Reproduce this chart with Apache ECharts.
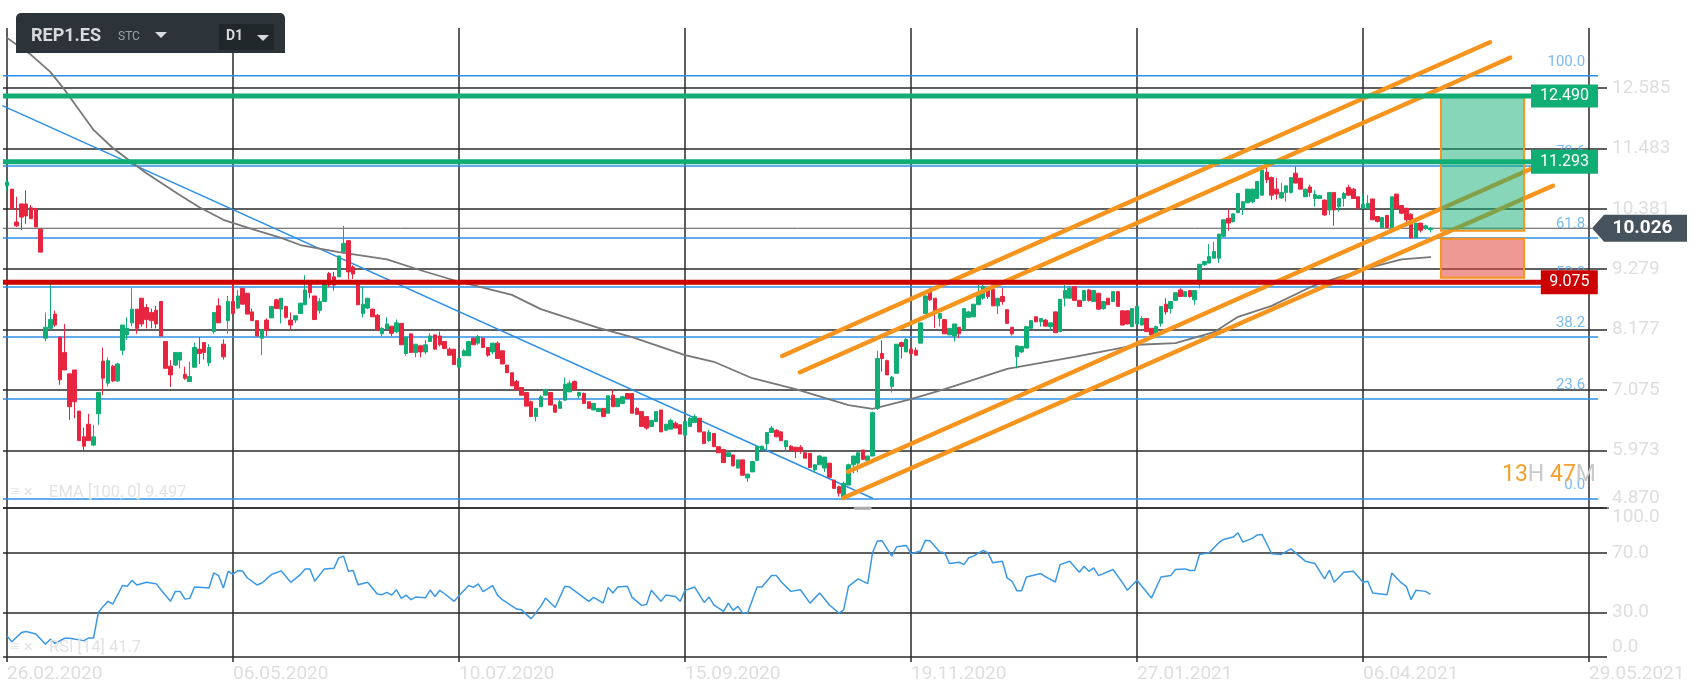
<!DOCTYPE html>
<html>
<head>
<meta charset="utf-8">
<title>REP1.ES</title>
<script src="https://cdn.jsdelivr.net/npm/echarts@6/dist/echarts.min.js"></script>
<style>
	html, body { margin: 0; padding: 0; background: #fff; }
	#chart { width: 1706px; height: 699px; filter: blur(0.4px); }
</style>
</head>
<body>
<div id="chart"></div>
<script>
// one candle per session: open, close, low, high
var candles = [
	[10.80,10.87,10.72,10.91],[10.74,10.38,10.38,10.74],[10.14,10.07,10.05,10.60],[10.47,10.23,9.99,10.47],
	[10.47,10.25,10.10,10.72],[10.40,10.20,10.20,10.45],[10.38,10.05,10.05,10.40],[10.01,9.59,9.59,10.01],
	[8.02,8.22,7.96,8.49],[8.20,8.36,8.17,9.03],[8.46,8.26,8.23,8.52],[8.04,7.26,7.17,8.05],
	[7.76,7.44,7.44,8.28],[7.37,6.77,6.53,7.37],[7.44,6.86,6.56,7.44],[6.69,6.15,6.15,6.69],
	[6.22,6.05,5.95,6.39],[6.45,6.15,6.15,6.64],[6.07,6.22,6.05,6.44],[6.64,7.03,6.44,7.03],
	[7.60,7.29,6.98,7.85],[7.20,7.61,7.14,7.67],[7.51,7.24,7.22,7.53],[7.24,7.55,7.22,7.57],
	[7.80,8.26,7.71,8.26],[8.08,8.20,7.99,8.40],[8.30,8.55,8.24,8.93],[8.55,8.20,8.10,8.55],
	[8.75,8.28,8.23,8.75],[8.58,8.36,8.20,8.64],[8.49,8.34,8.20,8.56],[8.53,8.28,8.20,8.61],
	[8.69,8.06,8.06,8.69],[7.96,7.47,7.47,7.96],[7.51,7.35,7.13,7.62],[7.53,7.76,7.51,7.76],
	[7.62,7.76,7.47,7.76],[7.36,7.29,7.26,7.50],[7.23,7.32,7.23,7.59],[7.49,7.85,7.49,7.94],
	[7.82,7.74,7.55,8.04],[7.94,7.76,7.63,7.94],[7.57,7.85,7.51,7.91],[8.14,8.49,8.10,8.49],
	[8.61,8.30,8.30,8.75],[7.91,7.68,7.63,8.00],[8.34,8.69,8.10,8.79],[8.69,8.47,8.47,8.99],
	[8.57,8.79,8.55,8.90],[8.93,8.64,8.64,8.93],[8.84,8.46,8.46,8.84],[8.50,8.34,8.34,8.56],
	[8.34,8.06,8.06,8.34],[8.02,8.17,7.71,8.17],[8.35,8.17,8.06,8.38],[8.39,8.60,8.39,8.60],
	[8.72,8.56,8.56,8.74],[8.55,8.75,8.29,8.75],[8.60,8.40,8.38,8.61],[8.35,8.26,8.18,8.49],
	[8.35,8.43,8.30,8.43],[8.47,8.66,8.47,8.66],[8.63,8.90,8.63,9.17],[9.00,8.85,8.75,9.00],
	[8.79,8.36,8.36,8.79],[8.53,8.69,8.47,8.75],[8.69,9.02,8.69,9.02],[9.20,8.99,8.95,9.23],
	[9.14,8.99,8.89,9.23],[9.14,9.52,9.14,9.52],[9.60,9.75,9.58,10.07],[9.80,9.23,9.09,9.80],
	[9.32,9.19,9.10,9.35],[9.03,8.63,8.63,9.03],[8.47,8.64,8.40,8.96],[8.57,8.75,8.55,8.75],
	[8.55,8.41,8.41,8.56],[8.44,8.17,8.17,8.46],[8.10,8.20,8.06,8.22],[8.19,8.28,8.18,8.40],
	[8.24,8.11,8.06,8.24],[8.14,8.30,8.11,8.36],[8.29,7.90,7.90,8.29],[7.74,8.04,7.70,8.04],
	[8.10,7.76,7.76,8.10],[7.76,7.91,7.67,7.91],[7.88,7.77,7.67,7.90],[7.77,7.90,7.73,7.99],
	[7.96,8.06,7.96,8.11],[8.08,7.82,7.82,8.08],[8.06,7.90,7.87,8.14],[7.96,7.83,7.83,7.97],
	[7.82,7.71,7.71,7.85],[7.82,7.54,7.54,7.82],[7.49,7.65,7.49,7.66],[7.70,7.79,7.70,7.82],
	[7.70,7.96,7.70,7.97],[8.02,7.90,7.90,8.04],[7.93,8.05,7.90,8.08],[8.02,7.85,7.85,8.03],
	[7.85,7.71,7.68,7.86],[7.77,7.93,7.73,7.93],[7.93,7.65,7.65,7.96],[7.79,7.55,7.55,7.79],
	[7.53,7.39,7.39,7.53],[7.39,7.15,7.15,7.39],[7.23,7.08,7.08,7.26],[7.12,6.98,6.98,7.13],
	[7.03,6.78,6.78,7.03],[6.86,6.59,6.59,6.88],[6.59,6.74,6.50,6.74],[6.77,6.95,6.77,6.98],
	[6.98,7.08,6.98,7.10],[7.03,6.80,6.80,7.03],[6.80,6.67,6.67,6.82],[6.74,6.86,6.74,6.90],
	[6.89,7.18,6.88,7.30],[7.04,7.20,7.04,7.25],[7.23,7.08,7.08,7.25],[6.97,7.03,6.92,7.03],
	[7.01,6.83,6.83,7.03],[6.86,6.74,6.74,6.86],[6.71,6.83,6.71,6.83],[6.68,6.74,6.68,6.74],
	[6.74,6.59,6.59,6.74],[6.65,6.97,6.65,6.97],[6.98,6.77,6.77,7.08],[6.77,6.92,6.77,6.92],
	[6.83,6.95,6.83,6.97],[7.01,6.92,6.92,7.02],[7.01,6.65,6.65,7.01],[6.74,6.63,6.63,6.76],
	[6.68,6.41,6.41,6.68],[6.59,6.38,6.35,6.59],[6.41,6.52,6.40,6.52],[6.50,6.68,6.50,6.68],
	[6.71,6.31,6.31,6.71],[6.34,6.45,6.34,6.45],[6.36,6.52,6.36,6.55],[6.47,6.38,6.38,6.50],
	[6.44,6.27,6.27,6.45],[6.25,6.50,6.25,6.50],[6.41,6.56,6.41,6.58],[6.48,6.59,6.48,6.63],
	[6.56,6.31,6.31,6.56],[6.31,6.10,6.10,6.31],[6.15,6.30,6.13,6.35],[6.28,6.04,6.04,6.28],
	[6.04,5.93,5.93,6.04],[5.99,5.75,5.75,5.99],[5.86,5.93,5.86,5.93],[5.89,5.69,5.69,5.89],
	[5.65,5.80,5.65,5.80],[5.80,5.52,5.52,5.80],[5.47,5.54,5.40,5.54],[5.58,5.77,5.58,5.77],
	[5.79,6.04,5.79,6.04],[5.98,6.05,5.98,6.05],[6.10,6.30,5.98,6.30],[6.30,6.38,6.30,6.42],
	[6.34,6.22,6.22,6.36],[6.31,6.15,6.15,6.33],[6.04,6.15,5.95,6.16],[6.05,5.98,5.96,6.07],
	[6.03,5.95,5.83,6.04],[6.03,5.97,5.91,6.07],[5.93,5.83,5.83,5.94],[5.92,5.66,5.66,5.92],
	[5.62,5.71,5.57,5.72],[5.71,5.87,5.71,5.89],[5.65,5.85,5.58,5.85],[5.74,5.48,5.48,5.74],
	[5.43,5.28,5.28,5.43],[5.31,5.19,5.13,5.33],[5.10,5.37,5.07,5.40],[5.34,5.71,5.34,5.73],
	[5.71,5.87,5.55,5.87],[5.74,5.93,5.57,5.93],[5.98,5.81,5.81,5.98],[5.79,5.87,5.79,5.87],
	[5.87,6.66,5.87,6.68],[6.74,7.65,6.71,7.79],[7.74,7.65,7.41,7.98],[7.61,7.35,7.35,7.63],
	[7.14,7.31,7.03,7.33],[7.38,7.91,7.38,7.91],[7.94,7.87,7.65,7.96],[7.77,8.00,7.77,8.02],
	[7.82,7.74,7.72,7.85],[7.80,7.71,7.71,7.85],[7.93,8.30,7.93,8.31],[8.47,8.79,8.47,8.80],
	[8.87,8.72,8.70,8.93],[8.75,8.50,8.21,8.75],[8.38,8.47,8.23,8.47],[8.36,8.10,8.10,8.36],
	[8.08,8.20,8.08,8.20],[8.06,8.28,7.96,8.28],[8.22,8.10,8.02,8.22],[8.17,8.56,8.17,8.56],
	[8.40,8.50,8.40,8.52],[8.41,8.64,8.41,8.64],[8.63,8.84,8.63,8.99],[8.75,8.96,8.72,9.00],
	[8.91,8.78,8.74,8.94],[8.91,8.61,8.61,8.93],[8.61,8.75,8.46,8.75],[8.78,8.69,8.63,8.93],
	[8.54,8.29,8.29,8.54],[8.22,8.10,8.07,8.22],[7.68,7.88,7.47,7.88],[7.77,7.87,7.75,7.87],
	[7.84,8.23,7.84,8.23],[8.20,8.34,8.20,8.34],[8.41,8.32,8.31,8.42],[8.32,8.38,8.23,8.38],
	[8.35,8.24,8.23,8.37],[8.23,8.30,8.17,8.30],[8.50,8.12,8.12,8.50],[8.14,8.73,8.14,8.73],
	[8.75,8.89,8.60,8.99],[8.75,8.93,8.75,8.97],[8.96,8.71,8.71,8.97],[8.71,8.60,8.60,8.72],
	[8.71,8.89,8.69,8.89],[8.90,8.71,8.69,8.92],[8.69,8.89,8.69,8.89],[8.84,8.55,8.54,8.85],
	[8.56,8.69,8.54,8.69],[8.75,8.63,8.63,8.75],[8.69,8.87,8.69,8.87],[8.87,8.60,8.60,8.87],
	[8.52,8.26,8.26,8.52],[8.52,8.28,8.27,8.52],[8.23,8.56,8.23,8.56],[8.28,8.60,8.26,8.60],
	[8.26,8.38,8.25,8.42],[8.38,8.14,8.14,8.38],[8.20,8.08,8.07,8.20],[8.11,8.23,8.11,8.25],
	[8.29,8.60,8.23,8.60],[8.64,8.50,8.45,8.75],[8.56,8.69,8.47,8.69],[8.71,8.85,8.71,8.85],
	[8.90,8.78,8.77,8.93],[8.78,8.87,8.78,8.88],[8.89,8.78,8.76,8.90],[8.72,8.89,8.63,8.89],
	[9.01,9.37,8.93,9.37],[9.36,9.42,9.34,9.42],[9.39,9.51,9.39,9.74],[9.48,9.60,9.48,9.78],
	[9.48,9.92,9.39,9.92],[9.88,10.18,9.86,10.18],[10.21,10.12,9.98,10.37],[10.15,10.29,10.13,10.29],
	[10.31,10.66,10.31,10.66],[10.39,10.51,10.27,10.51],[10.49,10.74,10.49,10.74],[10.51,10.74,10.48,10.75],
	[10.57,10.88,10.57,10.88],[10.63,11.09,10.63,11.10],[11.05,10.91,10.85,11.15],[10.95,10.63,10.54,10.97],
	[10.74,10.65,10.55,10.94],[10.58,10.68,10.56,10.85],[10.68,10.80,10.51,10.80],[10.68,10.95,10.66,10.95],
	[11.03,10.85,10.85,11.15],[10.94,10.74,10.74,10.94],[10.60,10.74,10.60,10.75],[10.78,10.68,10.60,10.82],
	[10.57,10.64,10.42,10.72],[10.57,10.62,10.56,10.63],[10.54,10.27,10.25,10.55],[10.36,10.68,10.27,10.68],
	[10.68,10.36,10.07,10.68],[10.42,10.57,10.33,10.57],[10.57,10.66,10.42,10.69],[10.77,10.63,10.62,10.82],
	[10.74,10.57,10.57,10.76],[10.60,10.39,10.39,10.60],[10.39,10.46,10.37,10.63],[10.39,10.48,10.38,10.63],
	[10.56,10.18,10.18,10.56],[10.24,10.15,10.13,10.25],[10.04,10.22,10.04,10.23],[10.26,10.04,10.04,10.26],
	[10.04,10.60,10.04,10.60],[10.65,10.39,10.39,10.65],[10.44,10.30,10.28,10.45],[10.39,10.18,10.12,10.40],
	[10.28,9.85,9.85,10.30],[9.85,10.12,9.85,10.12],[10.12,9.99,9.95,10.12],[10.02,10.07,10.00,10.09],
	[10.00,10.026,9.95,10.05]
];

// session index, EMA value
var emaPoints = [
	[0,13.50],[5,13.19],[9,12.88],[12,12.55],[18,11.82],[22,11.49],[29,11.03],[36,10.63],[40,10.41],[45,10.18],
	[51,10.01],[57,9.85],[61,9.72],[69,9.59],[79,9.46],[86,9.26],[94,9.05],[105,8.81],[111,8.55],[123,8.21],
	[130,8.04],[141,7.71],[147,7.59],[155,7.29],[164,7.09],[175,6.80],[180,6.73],[188,6.91],[195,7.09],[208,7.46],
	[222,7.68],[235,7.90],[243,7.93],[251,8.13],[256,8.41],[263,8.61],[272,8.99],[283,9.30],[290,9.46],[296,9.50]
];

// session index, RSI value
var rsiPoints = [
	[0,14.2],[1,10.3],[3,16.4],[4,17.1],[6,15.5],[8,8.5],[9,11.9],[10,9.2],[12,12.6],[13,12.6],[16,11],[17,12.8],
	[18,12.8],[19,29.9],[20,34],[21,37.4],[22,35.6],[24,48],[25,47.5],[26,51.5],[27,48.4],[29,50.2],[31,49.3],
	[32,45.2],[34,37.4],[35,44.1],[36,44.1],[37,38.9],[38,39.4],[39,47],[40,46.8],[42,46.4],[43,56.5],[44,54.7],
	[45,46.4],[46,57.6],[47,55.6],[48,58.1],[49,57.6],[50,53.1],[52,48.4],[53,49.7],[55,55.4],[57,57.9],[59,50.2],
	[61,55.4],[62,59.2],[63,59.2],[64,50.9],[66,59.2],[68,59.7],[69,66.6],[70,67.8],[71,57.6],[72,58.1],[73,48.6],
	[75,50.2],[77,42.3],[78,41.9],[79,43.4],[80,41.6],[81,45.2],[82,39.4],[83,41.6],[84,38.5],[85,40.3],[87,39.8],
	[88,45],[89,40.7],[90,44.8],[91,42.5],[93,37.4],[94,41.2],[96,48],[97,46.8],[98,49.1],[99,43.9],[101,48],
	[102,41.6],[103,38.5],[106,32.2],[107,31.7],[109,25.6],[111,34],[112,39.6],[114,33.3],[116,47.5],[117,47],
	[121,37.4],[122,40.1],[124,36.2],[125,46.8],[126,43],[127,47],[129,47.5],[130,40.1],[132,34.7],[133,35.3],
	[134,44.8],[136,37.4],[137,41.6],[139,40.7],[140,37.4],[141,44.8],[143,47],[145,36.7],[146,40.3],[147,35.1],
	[149,30.6],[150,36.2],[151,31.3],[152,34],[153,29.5],[154,29.5],[156,47],[157,47],[159,54.7],[160,54.7],
	[161,50.6],[163,44.1],[165,45.2],[167,36.2],[169,43],[171,35.1],[173,29.5],[174,31.7],[175,47.5],[177,52.5],
	[179,49.3],[180,70],[181,77.9],[182,78.1],[184,67.8],[185,74.1],[187,75],[188,69.4],[190,71.2],[191,78.4],
	[192,77.9],[194,70.5],[195,70],[196,62.8],[198,63.7],[199,62.1],[200,66.7],[201,67.8],[203,71.6],[204,70],
	[205,63.3],[207,64.4],[208,53.1],[209,50.9],[210,44.6],[211,44.6],[212,53.8],[215,56.1],[216,53.8],[218,50.4],
	[219,62.1],[221,64.4],[223,57],[224,61],[225,57.6],[226,59.9],[227,54.7],[230,58.8],[232,49.8],[233,44.8],
	[235,51.6],[238,39.6],[240,53.8],[242,54.7],[243,58.8],[245,59.2],[246,58.1],[247,58.1],[248,68.9],[250,70],
	[252,76.8],[253,79],[255,80.6],[256,83.5],[257,77.2],[259,79.7],[260,82],[261,82.4],[263,69.4],[265,68.9],
	[267,72.7],[270,64.4],[272,62.8],[274,52.5],[275,58.3],[276,50.2],[278,57],[280,57.6],[282,50.2],[283,50.9],
	[284,43],[287,41.9],[288,56.5],[290,49.8],[291,47.5],[292,38.5],[293,44.8],[295,44.1],[296,42.1]
];

var dateLabels = ["26.02.2020", "06.05.2020", "10.07.2020", "15.09.2020", "19.11.2020", "27.01.2021", "06.04.2021", "29.05.2021"];
var dateIndex = [0, 47, 94, 141, 188, 235, 282, 329];

var priceTicks = [4.918, 5.973, 7.075, 8.177, 9.279, 10.381, 11.483, 12.585];
var priceTickText = ["4.870", "5.973", "7.075", "8.177", "9.279", "10.381", "11.483", "12.585"];
var rsiTicks = [0, 30, 70, 100];

var fibValues = [5.086, 6.911, 8.042, 8.954, 9.848, 11.162, 12.809];
var fibNames = ["0.0", "23.6", "38.2", "50.0", "61.8", "78.6", "100.0"];

var levelValues = [12.437, 11.24, 9.04];
var levelTags = ["12.490", "11.293", "9.075"];
var lastPrice = 10.026;

// from index, from price, to index, to price
var channelLines = [
	[161.2, 7.695, 308.4, 13.419],
	[164.9, 7.398, 312.6, 13.138],
	[174.9, 5.584, 317.8, 11.144],
	[173.9, 5.105, 321.5, 10.802]
];
var trendLine = [[-0.83, 12.26], [180, 5.10]];
var emaFoot = [[176.4, 4.918], [179.5, 4.918]];

// from index, to index, upper price, lower price
var profitZone = [298.2, 315.5, 12.44, 9.98];
var lossZone = [298.2, 315.5, 9.835, 9.124];

// the plot runs wider than the first and last date lines
var indexMin = -0.832, indexMax = 332.74;
var fibEnd = 330.9, levelEnd = 323, fibText = 328.2, tagMid = 323.9, redTagMid = 324.9, lastEnd = 329.6, lastMid = 339.5, panelEnd = 352.3;

var UP = "#10ae74", DOWN = "#e8253f", BLUE = "#2e8fe6", ORANGE = "#f7941d", FAINT = "#dedede", DARK = "#2a2a2a";

function flatLine(price, from, to, color, width, z) {
	return {
		type: "line",
		data: [[from, price], [to, price]],
		showSymbol: false,
		silent: true,
		clip: false,
		z: z,
		lineStyle: { color: color, width: width }
	};
}

function drawLine(points, color, width, z) {
	return {
		type: "line",
		data: points,
		showSymbol: false,
		silent: true,
		clip: false,
		z: z,
		lineStyle: { color: color, width: width, cap: "round" }
	};
}

function zoneSeries(zone, fill) {
	return {
		type: "custom",
		data: [zone],
		silent: true,
		z: 5,
		renderItem: function(params, api) {
			var a = api.coord([api.value(0), api.value(2)]);
			var b = api.coord([api.value(1), api.value(3)]);
			return {
				type: "rect",
				shape: { x: a[0], y: a[1], width: b[0] - a[0], height: b[1] - a[1] },
				style: { fill: fill, stroke: ORANGE, lineWidth: 2 }
			};
		}
	};
}

function tagSeries(index, price, text, color, size) {
	return {
		type: "scatter",
		data: [[index, price]],
		symbol: "rect",
		symbolSize: size,
		clip: false,
		silent: true,
		z: 8,
		itemStyle: { color: color, opacity: 1 },
		label: { show: true, position: "inside", formatter: text, color: "#fff", fontFamily: "Roboto", fontSize: 16 }
	};
}

var series = [];

fibValues.forEach(function(v) {
	series.push(flatLine(v, indexMin, fibEnd, BLUE, 1.5, 1));
});
series.push({
	type: "scatter",
	data: fibValues.map(function(v) { return [fibText, v]; }),
	symbolSize: 0,
	clip: false,
	silent: true,
	z: 3,
	label: {
		show: true,
		position: "top",
		align: "right",
		distance: 6,
		color: "#5aa9ec",
		fontFamily: "Roboto",
		fontSize: 15,
		formatter: function(p) { return fibNames[p.dataIndex]; }
	}
});
series.push(flatLine(lastPrice, indexMin, lastEnd, "#555", 1, 1));
series.push(flatLine(priceTicks[0], 332, panelEnd, "#444", 1.2, 1));
series.push(drawLine(emaFoot, "#aaa", 3, 2));
series.push(drawLine(trendLine, BLUE, 1.5, 2));
series.push(drawLine(emaPoints, "#777", 1.8, 2));
series.push({
	type: "candlestick",
	data: candles.map(function(c, i) { return [i, c[0], c[1], c[2], c[3]]; }),
	barWidth: 4,
	silent: true,
	z: 3,
	itemStyle: { color: UP, color0: DOWN, borderColor: UP, borderColor0: DOWN, borderWidth: 1 }
});
channelLines.forEach(function(c) {
	series.push(drawLine([[c[0], c[1]], [c[2], c[3]]], ORANGE, 4.5, 4));
});
series.push(zoneSeries(profitZone, "rgba(16,174,116,0.5)"));
series.push(zoneSeries(lossZone, "rgba(226,70,62,0.55)"));
series.push(flatLine(levelValues[0], indexMin, levelEnd, UP, 5, 6));
series.push(flatLine(levelValues[1], indexMin, levelEnd, UP, 5, 6));
series.push(flatLine(levelValues[2], indexMin, levelEnd, "#cc0000", 5, 6));
series.push(tagSeries(tagMid, levelValues[0], levelTags[0], UP, [67, 23]));
series.push(tagSeries(tagMid, levelValues[1], levelTags[1], UP, [67, 24]));
series.push(tagSeries(redTagMid, levelValues[2], levelTags[2], "#cc0000", [57, 24]));
series.push({
	type: "scatter",
	data: [[lastMid, lastPrice]],
	symbol: "path://M0 13.5 L12 0 L95 0 L95 27 L12 27 Z",
	symbolSize: [95, 27],
	symbolKeepAspect: false,
	clip: false,
	silent: true,
	z: 8,
	itemStyle: { color: "#47535c", opacity: 1 },
	label: {
		show: true,
		position: "inside",
		offset: [3, 0],
		formatter: String(lastPrice),
		color: "#fff",
		fontFamily: "Roboto",
		fontWeight: "bold",
		fontSize: 19
	}
});
series.push({
	type: "line",
	xAxisIndex: 1,
	yAxisIndex: 1,
	data: rsiPoints,
	showSymbol: false,
	silent: true,
	z: 3,
	lineStyle: { color: "#3a98e6", width: 1.5 }
});

function idxAxis(gridIndex, showLabels) {
	return {
		type: "value",
		gridIndex: gridIndex,
		min: indexMin,
		max: indexMax,
		axisLine: { show: false },
		axisTick: { show: showLabels, customValues: dateIndex, length: 5, lineStyle: { color: DARK, width: 1.5 } },
		splitLine: { show: true, lineStyle: { color: DARK, width: 1.5 } },
		axisLabel: {
			show: showLabels,
			customValues: dateIndex,
			align: "left",
			margin: 8,
			color: FAINT,
			fontFamily: "Roboto",
			fontSize: 19,
			formatter: function(v) { return dateLabels[Math.round(v / 47)]; }
		}
	};
}

var chart = echarts.init(document.getElementById("chart"), null, { renderer: "canvas" });
chart.setOption({
	animation: false,
	backgroundColor: "#fff",
	grid: [
		{ left: 3, width: 1604, top: 28, height: 480.2 },
		{ left: 3, width: 1604, top: 508.2, height: 148.8 }
	],
	xAxis: [idxAxis(0, false), idxAxis(1, true)],
	yAxis: [
		{
			type: "value",
			gridIndex: 0,
			position: "right",
			min: priceTicks[0],
			max: 13.68,
			axisLine: { show: false },
			axisTick: { show: false, customValues: priceTicks },
			splitLine: { show: true, lineStyle: { color: DARK, width: 1.5 } },
			axisLabel: {
				customValues: priceTicks,
				margin: 5,
				color: FAINT,
				fontFamily: "Roboto",
				fontSize: 19,
				verticalAlignMinLabel: "bottom",
				formatter: function(v) { return priceTickText[priceTicks.indexOf(v)]; }
			}
		},
		{
			type: "value",
			gridIndex: 1,
			position: "right",
			min: 0,
			max: 100,
			axisLine: { show: false },
			axisTick: { show: false, customValues: rsiTicks },
			splitLine: { show: true, lineStyle: { color: DARK, width: 1.5 } },
			axisLabel: {
				customValues: rsiTicks,
				margin: 5,
				color: FAINT,
				fontFamily: "Roboto",
				fontSize: 19,
				verticalAlignMinLabel: "bottom",
				verticalAlignMaxLabel: "top",
				formatter: function(v) { return v.toFixed(1); }
			}
		}
	],
	series: series,
	graphic: [
		{ type: "rect", z: 20, shape: { x: 16, y: 13, width: 269, height: 40, r: [5, 5, 0, 0] }, style: { fill: "#2c3439" } },
		{ type: "rect", z: 21, shape: { x: 219, y: 24, width: 55, height: 26, r: 2 }, style: { fill: "#20282c" } },
		{ type: "text", z: 22, left: 31, top: 27, style: { text: "REP1.ES", fill: "#d8dbdd", font: "bold 18px Roboto" } },
		{ type: "text", z: 22, left: 118, top: 31, style: { text: "STC", fill: "#9aa3a8", font: "12px Roboto" } },
		{ type: "polygon", z: 22, shape: { points: [[155, 32], [167, 32], [161, 38]] }, style: { fill: "#d8dbdd" } },
		{ type: "text", z: 22, left: 226, top: 29, style: { text: "D1", fill: "#d8dbdd", font: "bold 14px Roboto" } },
		{ type: "polygon", z: 22, shape: { points: [[257, 35], [269, 35], [263, 41]] }, style: { fill: "#d8dbdd" } },
		{ type: "text", z: 22, left: 10, top: 484, style: { text: "\u2261 \u00d7", fill: "#e3e3e3", font: "17px Roboto" } },
		{ type: "text", z: 22, left: 49, top: 484, style: { text: "EMA [100, 0] 9.497", fill: "#e3e3e3", font: "16.5px Roboto" } },
		{ type: "text", z: 22, left: 10, top: 639, style: { text: "\u2261 \u00d7", fill: "#e3e3e3", font: "17px Roboto" } },
		{ type: "text", z: 22, left: 49, top: 639, style: { text: "RSI [14] 41.7", fill: "#e3e3e3", font: "16.5px Roboto" } },
		{
			type: "text", z: 22, left: 1502, top: 464,
			style: {
				text: "{a|13}{b|H} {a|47}{b|M}",
				font: "23px Roboto",
				rich: {
					a: { fill: "#f5a02c", font: "23px Roboto" },
					b: { fill: "#c9c9c9", font: "23px Roboto" }
				}
			}
		}
	]
});
</script>
</body>
</html>
